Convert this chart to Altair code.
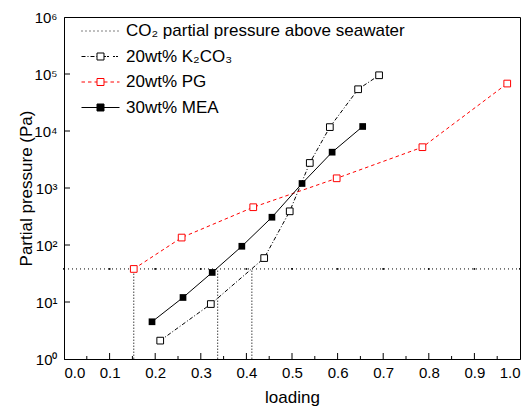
import altair as alt
import pandas as pd

# ---------------- data ----------------
series_names = ["CO₂ partial pressure above seawater", "20wt% K₂CO₃", "20wt% PG", "30wt% MEA"]

k2co3_loading = [0.211, 0.322, 0.439, 0.495, 0.539, 0.583, 0.645, 0.691]
k2co3_pressure = [2.1, 9.2, 59, 390, 2750, 11700, 54000, 95000]

pg_loading = [0.153, 0.258, 0.415, 0.598, 0.786, 0.972]
pg_pressure = [38, 135, 460, 1480, 5200, 68000]

mea_loading = [0.193, 0.261, 0.325, 0.390, 0.456, 0.522, 0.588, 0.655]
mea_pressure = [4.5, 12, 33, 95, 307, 1200, 4250, 12000]

seawater_pressure = 38
seawater_loading = [0.0, 0.1, 0.2, 0.3, 0.4, 0.5, 0.6, 0.7, 0.8, 0.9, 1.0]

cross_loading = [0.153, 0.337, 0.412]

x_tick_values = [0.0, 0.1, 0.2, 0.3, 0.4, 0.5, 0.6, 0.7, 0.8, 0.9, 1.0]
x_major_inner = [0.1, 0.2, 0.3, 0.4, 0.5, 0.6, 0.7, 0.8, 0.9]
x_minor = [0.05, 0.15, 0.25, 0.35, 0.45, 0.55, 0.65, 0.75, 0.85, 0.95]
y_tick_values = [1, 10, 100, 1000, 10000, 100000, 1000000]
y_major_inner = [10, 100, 1000, 10000, 100000]

# ---------------- frames ----------------
df_k = pd.DataFrame({"loading": k2co3_loading, "p": k2co3_pressure, "series": series_names[1]})
df_pg = pd.DataFrame({"loading": pg_loading, "p": pg_pressure, "series": series_names[2]})
df_mea = pd.DataFrame({"loading": mea_loading, "p": mea_pressure, "series": series_names[3]})
df_sw = pd.DataFrame({"loading": seawater_loading, "p": seawater_pressure, "series": series_names[0]})
df_cross = pd.DataFrame({"loading": cross_loading, "lo": 1, "hi": seawater_pressure})
df_all = pd.concat([df_sw, df_k, df_pg, df_mea], ignore_index=True)

W, H = 456, 342
FONT = "Liberation Sans"

xscale = alt.Scale(domain=[0, 1], nice=False, zero=False)
yscale = alt.Scale(type="log", domain=[1, 1e6], nice=False)

xaxis = alt.Axis(values=x_tick_values, format=".1f", title="loading", ticks=False,
                 labelPadding=6, titlePadding=9, labelFontSize=15, titleFontSize=17)
yaxis = alt.Axis(values=y_tick_values, title="Partial pressure (Pa)", ticks=False,
                 labelExpr="'10' + ['⁰','¹','²','³','⁴','⁵','⁶'][round(log(datum.value)/LN10)]",
                 labelPadding=7, titlePadding=-2, labelFontSize=15, titleFontSize=17)


def X(field="loading:Q"):
    return alt.X(field, scale=xscale, axis=xaxis)


def Y(field="p:Q"):
    return alt.Y(field, scale=yscale, axis=yaxis)


# ---------------- layers ----------------
cross_rules = alt.Chart(df_cross).mark_rule(color="#444444", strokeWidth=1, strokeDash=[1.5, 1.5]).encode(
    x=X(), y=Y("lo:Q"), y2="hi:Q")

sw_line = alt.Chart(df_sw).mark_line(color="black", strokeWidth=1, strokeDash=[1, 3]).encode(x=X(), y=Y())
sw_pts = alt.Chart(df_sw).mark_point(shape="square", filled=True, color="black", size=3, opacity=1).encode(x=X(), y=Y())

k_line = alt.Chart(df_k).mark_line(color="black", strokeWidth=1, strokeDash=[4, 2, 1, 2]).encode(x=X(), y=Y())
k_pts = alt.Chart(df_k).mark_point(shape="square", size=45, fill="white", stroke="black",
                                   strokeWidth=1, filled=False, opacity=1, fillOpacity=1).encode(x=X(), y=Y())

pg_line = alt.Chart(df_pg).mark_line(color="#ff0000", strokeWidth=1, strokeDash=[3.5, 3]).encode(x=X(), y=Y())
pg_pts = alt.Chart(df_pg).mark_point(shape="square", size=45, fill="white", stroke="#ff0000",
                                     strokeWidth=1, filled=False, opacity=1, fillOpacity=1).encode(x=X(), y=Y())

mea_line = alt.Chart(df_mea).mark_line(color="black", strokeWidth=1).encode(x=X(), y=Y())
mea_pts = alt.Chart(df_mea).mark_point(shape="square", size=45, filled=True, color="black",
                                       opacity=1).encode(x=X(), y=Y())

# inward ticks
df_xmaj = pd.DataFrame({"loading": x_major_inner})
df_xmin = pd.DataFrame({"loading": x_minor})
df_ymaj = pd.DataFrame({"p": y_major_inner})
xmaj_ticks = alt.Chart(df_xmaj).mark_rule(color="black", strokeWidth=1).encode(
    x=X(), y=alt.value(H), y2=alt.value(H - 6))
xmin_ticks = alt.Chart(df_xmin).mark_rule(color="black", strokeWidth=1).encode(
    x=X(), y=alt.value(H), y2=alt.value(H - 3))
ymaj_ticks = alt.Chart(df_ymaj).mark_rule(color="black", strokeWidth=1).encode(
    y=Y(), x=alt.value(0), x2=alt.value(6))

# legend (symbols built as paths: line pattern + square)
S = 0.184


def seg_path(segs):
    return " ".join(f"M{a:.3f},0 L{b:.3f},0" for a, b in segs)


def pattern(start, end, pat):
    segs = []
    pos = start
    i = 0
    while pos < end - 1e-9:
        length = pat[i % len(pat)]
        if i % 2 == 0:
            segs.append((pos, min(end, pos + length)))
        pos += length
        i += 1
    return segs


square = f"M{-S},{-S} L{S},{-S} L{S},{S} L{-S},{S} Z"
u = 1 / 19.0  # one pixel in symbol units
path_sw = seg_path(pattern(-1, 1, [1 * u, 3 * u]))
path_k = seg_path(pattern(-1, -S, [4 * u, 2 * u, 1 * u, 2 * u]) + pattern(S, 1, [2 * u, 1 * u, 2 * u, 4 * u])) + " " + square
path_pg = seg_path(pattern(-1, -S, [3.5 * u, 3 * u]) + pattern(S, 1, [3.5 * u, 3 * u])) + " " + square
path_mea = seg_path([(-1, -S), (S, 1)]) + " " + square

leg = alt.Legend(title=None)
legend_layer = alt.Chart(df_all).mark_point(opacity=1, strokeWidth=1).encode(
    shape=alt.Shape("series:N", scale=alt.Scale(domain=series_names, range=[path_sw, path_k, path_pg, path_mea]), legend=leg),
    stroke=alt.Stroke("series:N", scale=alt.Scale(domain=series_names, range=["black", "black", "#ff0000", "black"]), legend=leg),
    fill=alt.Fill("series:N", scale=alt.Scale(domain=series_names, range=["transparent", "white", "white", "black"]), legend=leg),
).transform_filter("false")

chart = alt.layer(
    cross_rules, sw_line, sw_pts, k_line, pg_line, mea_line, k_pts, pg_pts, mea_pts,
    xmaj_ticks, xmin_ticks, ymaj_ticks, legend_layer
).properties(
    width=W, height=H,
    autosize=alt.AutoSizeParams(type="none"),
    padding={"left": 56, "top": 9, "right": 3, "bottom": 53},
).configure_view(
    stroke="black", strokeWidth=1
).configure_axis(
    labelFont=FONT, titleFont=FONT, labelColor="black", titleColor="black",
    titleFontWeight="normal", domainColor="black", domainWidth=1, grid=False
).configure_legend(
    orient="none", legendX=17, legendY=4, padding=0, clipHeight=20, rowPadding=5.5,
    labelFont=FONT, labelFontSize=17, labelColor="black", labelOffset=6, labelLimit=500,
    symbolSize=1444, symbolStrokeWidth=1
)

chart.save("out.html", embed_options={"renderer": "svg", "actions": False})
